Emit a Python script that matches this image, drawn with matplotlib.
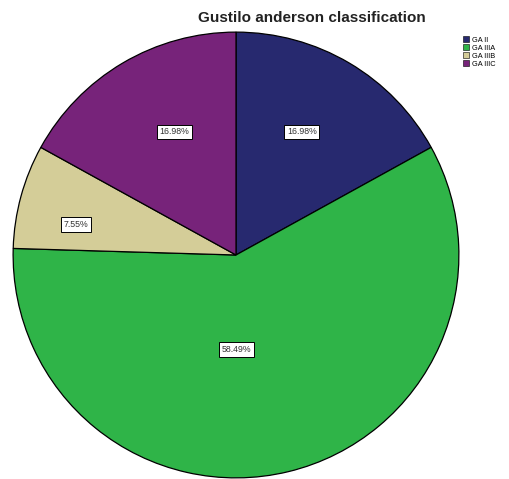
import matplotlib
matplotlib.use("Agg")
import matplotlib.pyplot as plt
import numpy as np

# Gustilo-Anderson classification of open fractures
categories = ["GA II", "GA IIIA", "GA IIIB", "GA IIIC"]
percentages = [16.98, 58.49, 7.55, 16.98]
colors = ["#27296f", "#2fb448", "#d4cd98", "#77237a"]

# label placement (radius fraction, angle offset in degrees) per wedge
label_radius = [0.627, 0.424, 0.732, 0.619]
label_angle_shift = [2.5, -13.1, 4.5, -3.9]

plt.rcParams["font.family"] = ["Liberation Sans", "DejaVu Sans"]

fig = plt.figure(figsize=(5.09, 4.79), dpi=100)
ax = fig.add_axes([12 / 509, 0.0, 448 / 509, 448 / 479])

wedges, _ = ax.pie(
    percentages,
    colors=colors,
    startangle=90,
    counterclock=False,
    wedgeprops=dict(edgecolor="black", linewidth=0.9),
)
ax.set_xlim(-1.005, 1.005)
ax.set_ylim(-1.005, 1.005)
ax.set_aspect("equal")
ax.axis("off")

for w, pct, r, shift in zip(wedges, percentages, label_radius, label_angle_shift):
    mid = np.deg2rad((w.theta1 + w.theta2) / 2 + shift)
    ax.text(
        r * np.cos(mid), r * np.sin(mid), f"{pct:.2f}%",
        ha="center", va="center", fontsize=6.3, color="#333333",
        bbox=dict(boxstyle="square,pad=0.3", facecolor="white",
                  edgecolor="black", linewidth=0.7),
    )

fig.text(312 / 509, 1 - 18 / 479, "Gustilo anderson classification",
         ha="center", va="center", fontsize=11, fontweight="bold",
         color="#222222")

leg = fig.legend(
    wedges, categories, loc="upper left", bbox_to_anchor=(458 / 509, 1 - 31 / 479),
    frameon=False, fontsize=5.3, handlelength=0.85, handleheight=0.85,
    handletextpad=0.35, labelspacing=0.08, borderpad=0.2,
)
for h in leg.legend_handles:
    h.set_linewidth(0.4)

fig.savefig("out.png", dpi=100)
